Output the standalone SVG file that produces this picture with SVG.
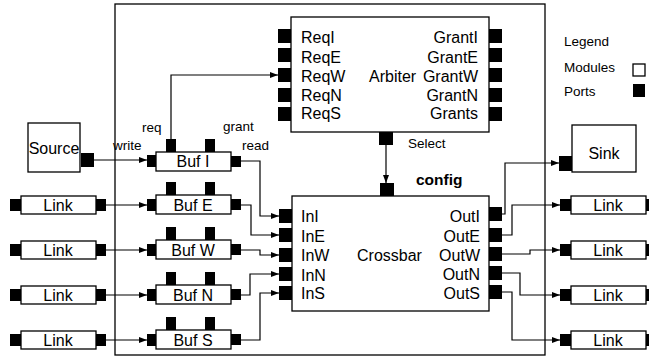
<svg xmlns="http://www.w3.org/2000/svg" width="649" height="358" viewBox="0 0 649 358">
<style>
text{font-family:"Liberation Sans",Arial,sans-serif;fill:#000}
.t{font-size:16px}
.s{font-size:13.5px}
.b{font-size:15.5px;font-weight:bold}
.m{text-anchor:middle}
.e{text-anchor:end}
.box{fill:#fff;stroke:#000;stroke-width:1.3}
.port{fill:#000}
.wire{fill:none;stroke:#000;stroke-width:1.2;marker-end:url(#ah)}
</style>
<defs>
<marker id="ah" markerUnits="userSpaceOnUse" markerWidth="8" markerHeight="6" refX="8" refY="3" orient="auto">
<path d="M0,0 L8,3 L0,6 z" fill="#000"/>
</marker>
</defs>
<rect width="649" height="358" fill="#fff"/>
<g id="frame"><rect x="115" y="4" width="430" height="351" fill="none" stroke="#000" stroke-width="1.3"/></g>

<g id="connectors">
<path class="wire" d="M94,160 H147"/>
<path class="wire" d="M106,205 H147"/>
<path class="wire" d="M106,250 H147"/>
<path class="wire" d="M106,295 H147"/>
<path class="wire" d="M106,340 H147"/>
<path class="wire" d="M171,139 V75 H278"/>
<path class="wire" d="M386,145 V183"/>
<path class="wire" d="M241,161 H260 V216 H279"/>
<path class="wire" d="M241,205 H251 V235 H279"/>
<path class="wire" d="M241,250 H260 V255 H279"/>
<path class="wire" d="M241,295 H250 V274 H279"/>
<path class="wire" d="M241,340 H260 V293 H279"/>
<path class="wire" d="M502,214 H505 V163 H559"/>
<path class="wire" d="M502,235 H512 V205 H560"/>
<path class="wire" d="M502,254 H530 V250 H560"/>
<path class="wire" d="M502,273 H520 V295 H560"/>
<path class="wire" d="M502,292 H512 V340 H560"/>
</g>

<g id="arbiter">
<rect class="box" x="291" y="17" width="198" height="115"/>
<rect class="port" x="278" y="29" width="13" height="14"/>
<rect class="port" x="278" y="48" width="13" height="14"/>
<rect class="port" x="278" y="68" width="13" height="14"/>
<rect class="port" x="278" y="88" width="13" height="14"/>
<rect class="port" x="278" y="107" width="13" height="14"/>
<rect class="port" x="489" y="29" width="13" height="14"/>
<rect class="port" x="489" y="48" width="13" height="14"/>
<rect class="port" x="489" y="68" width="13" height="14"/>
<rect class="port" x="489" y="88" width="13" height="14"/>
<rect class="port" x="489" y="107" width="13" height="14"/>
<rect class="port" x="379" y="132" width="14" height="13"/>
<text class="t" x="301" y="43">ReqI</text>
<text class="t" x="301" y="63">ReqE</text>
<text class="t" x="301" y="82">ReqW</text>
<text class="t" x="301" y="101">ReqN</text>
<text class="t" x="301" y="119">ReqS</text>
<text class="t" x="369" y="82">Arbiter</text>
<text class="t e" x="478" y="43">GrantI</text>
<text class="t e" x="478" y="63">GrantE</text>
<text class="t e" x="478" y="82">GrantW</text>
<text class="t e" x="478" y="101">GrantN</text>
<text class="t e" x="478" y="119">Grants</text>
<text class="s" x="408" y="148">Select</text>
</g>

<g id="crossbar">
<rect class="box" x="292" y="196" width="197" height="115"/>
<rect class="port" x="380" y="183" width="14" height="13"/>
<rect class="port" x="279" y="209" width="13" height="14"/>
<rect class="port" x="279" y="228" width="13" height="14"/>
<rect class="port" x="279" y="248" width="13" height="14"/>
<rect class="port" x="279" y="267" width="13" height="14"/>
<rect class="port" x="279" y="286" width="13" height="14"/>
<rect class="port" x="489" y="207" width="13" height="14"/>
<rect class="port" x="489" y="228" width="13" height="14"/>
<rect class="port" x="489" y="247" width="13" height="14"/>
<rect class="port" x="489" y="266" width="13" height="14"/>
<rect class="port" x="489" y="285" width="13" height="14"/>
<text class="b" x="416" y="185">config</text>
<text class="t" x="301" y="222">InI</text>
<text class="t" x="301" y="242">InE</text>
<text class="t" x="301" y="261">InW</text>
<text class="t" x="301" y="281">InN</text>
<text class="t" x="301" y="299">InS</text>
<text class="t" x="357" y="261">Crossbar</text>
<text class="t e" x="480" y="222">OutI</text>
<text class="t e" x="480" y="242">OutE</text>
<text class="t e" x="480" y="261">OutW</text>
<text class="t e" x="480" y="280">OutN</text>
<text class="t e" x="480" y="299">OutS</text>
</g>

<g id="source">
<rect class="box" x="28" y="123" width="52" height="49"/>
<rect class="port" x="81" y="153" width="13" height="14"/>
<text class="t m" x="54" y="154">Source</text>
</g>

<g id="sink">
<rect class="box" x="572" y="125" width="64" height="47"/>
<rect class="port" x="559" y="156" width="13" height="15"/>
<text class="t m" x="604" y="159">Sink</text>
</g>

<g id="bufI">
<rect class="box" x="156" y="152" width="75" height="19"/>
<rect class="port" x="147" y="155" width="9" height="12"/>
<rect class="port" x="231" y="156" width="10" height="11"/>
<rect class="port" x="166" y="139" width="10" height="13"/>
<rect class="port" x="205" y="139" width="10" height="13"/>
<text class="t m" x="193" y="167">Buf I</text>
<text class="s" x="142" y="132">req</text>
<text class="s" x="223" y="131">grant</text>
<text class="s" x="113" y="150">write</text>
<text class="s" x="242" y="150">read</text>
</g>
<g id="bufE">
<rect class="box" x="156" y="195" width="75" height="19"/>
<rect class="port" x="147" y="199" width="9" height="12"/>
<rect class="port" x="231" y="199" width="10" height="11"/>
<rect class="port" x="166" y="182" width="10" height="13"/>
<rect class="port" x="205" y="182" width="10" height="13"/>
<text class="t m" x="193" y="211">Buf E</text>
</g>
<g id="bufW">
<rect class="box" x="156" y="240" width="75" height="19"/>
<rect class="port" x="147" y="244" width="9" height="12"/>
<rect class="port" x="231" y="244" width="10" height="11"/>
<rect class="port" x="166" y="227" width="10" height="13"/>
<rect class="port" x="205" y="227" width="10" height="13"/>
<text class="t m" x="193" y="256">Buf W</text>
</g>
<g id="bufN">
<rect class="box" x="156" y="285" width="75" height="19"/>
<rect class="port" x="147" y="289" width="9" height="12"/>
<rect class="port" x="231" y="289" width="10" height="11"/>
<rect class="port" x="166" y="272" width="10" height="13"/>
<rect class="port" x="205" y="272" width="10" height="13"/>
<text class="t m" x="193" y="301">Buf N</text>
</g>
<g id="bufS">
<rect class="box" x="156" y="330" width="75" height="19"/>
<rect class="port" x="147" y="334" width="9" height="12"/>
<rect class="port" x="231" y="334" width="10" height="11"/>
<rect class="port" x="166" y="317" width="10" height="13"/>
<rect class="port" x="205" y="317" width="10" height="13"/>
<text class="t m" x="193" y="346">Buf S</text>
</g>

<g id="linkInE">
<rect class="box" x="21" y="196" width="75" height="18"/>
<rect class="port" x="10" y="199" width="11" height="12"/>
<rect class="port" x="96" y="199" width="10" height="12"/>
<text class="t m" x="58" y="211">Link</text>
</g>
<g id="linkInW">
<rect class="box" x="21" y="241" width="75" height="18"/>
<rect class="port" x="10" y="244" width="11" height="12"/>
<rect class="port" x="96" y="244" width="10" height="12"/>
<text class="t m" x="58" y="256">Link</text>
</g>
<g id="linkInN">
<rect class="box" x="21" y="286" width="75" height="18"/>
<rect class="port" x="10" y="289" width="11" height="12"/>
<rect class="port" x="96" y="289" width="10" height="12"/>
<text class="t m" x="58" y="301">Link</text>
</g>
<g id="linkInS">
<rect class="box" x="21" y="331" width="75" height="18"/>
<rect class="port" x="10" y="334" width="11" height="12"/>
<rect class="port" x="96" y="334" width="10" height="12"/>
<text class="t m" x="58" y="346">Link</text>
</g>

<g id="linkOutE">
<rect class="box" x="571" y="196" width="75" height="18"/>
<rect class="port" x="560" y="199" width="11" height="12"/>
<rect class="port" x="646" y="199" width="10" height="12"/>
<text class="t m" x="608" y="211">Link</text>
</g>
<g id="linkOutW">
<rect class="box" x="571" y="241" width="75" height="18"/>
<rect class="port" x="560" y="244" width="11" height="12"/>
<rect class="port" x="646" y="244" width="10" height="12"/>
<text class="t m" x="608" y="256">Link</text>
</g>
<g id="linkOutN">
<rect class="box" x="571" y="286" width="75" height="18"/>
<rect class="port" x="560" y="289" width="11" height="12"/>
<rect class="port" x="646" y="289" width="10" height="12"/>
<text class="t m" x="608" y="301">Link</text>
</g>
<g id="linkOutS">
<rect class="box" x="571" y="331" width="75" height="18"/>
<rect class="port" x="560" y="334" width="11" height="12"/>
<rect class="port" x="646" y="334" width="10" height="12"/>
<text class="t m" x="608" y="346">Link</text>
</g>

<g id="legend">
<text class="s" x="564" y="46">Legend</text>
<text class="s" x="564" y="72">Modules</text>
<text class="s" x="564" y="96">Ports</text>
<rect class="box" x="633" y="64" width="12" height="12"/>
<rect class="port" x="633" y="84" width="12" height="13"/>
</g>
</svg>
